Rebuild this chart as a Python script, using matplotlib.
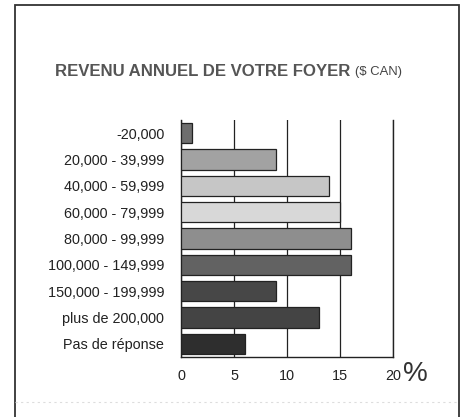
import matplotlib
matplotlib.use("Agg")
import matplotlib.pyplot as plt
from matplotlib.patches import Rectangle
from matplotlib.lines import Line2D

plt.rcParams["font.family"] = ["Liberation Sans Narrow", "Liberation Sans", "DejaVu Sans"]

# données (pourcentage des foyers)
categories = [
    "-20,000",
    "20,000 - 39,999",
    "40,000 - 59,999",
    "60,000 - 79,999",
    "80,000 - 99,999",
    "100,000 - 149,999",
    "150,000 - 199,999",
    "plus de 200,000",
    "Pas de réponse",
]
values = [1, 9, 14, 15, 16, 16, 9, 13, 6]
bar_colors = ["#6e6e6e", "#a2a2a2", "#c6c6c6", "#d8d8d8", "#8e8e8e",
              "#626262", "#474747", "#444444", "#2e2e2e"]
x_ticks = [0, 5, 10, 15, 20]

fig = plt.figure(figsize=(4.63, 4.17), dpi=100)

# cadre extérieur (coupé en bas)
fig.patches.append(Rectangle((15 / 463, -0.05), 444 / 463, 1.05 - 5 / 417,
                             transform=fig.transFigure, fill=False,
                             edgecolor="#333333", linewidth=1.3))
fig.lines.append(Line2D([15 / 463, 459 / 463], [1 - 402 / 417] * 2,
                        transform=fig.transFigure, color="#dddddd",
                        linestyle=(0, (2, 3)), linewidth=0.8))

ax = fig.add_axes([181 / 463, 1 - 357 / 417, 212 / 463, 237 / 417])
y = list(range(len(categories)))
ax.barh(y, values, height=0.76, color=bar_colors, edgecolor="#222222",
        linewidth=0.9, zorder=3)
ax.set_ylim(len(categories) - 0.5, -0.5)
ax.set_xlim(0, 20)
ax.set_yticks(y)
ax.set_yticklabels(categories, fontsize=10.4, color="#222222")
ax.set_xticks(x_ticks)
ax.set_xticklabels([str(t) for t in x_ticks], fontsize=10.4, color="#222222")
ax.tick_params(length=0, pad=9)
ax.tick_params(axis="y", pad=12)
ax.grid(axis="x", color="#222222", linewidth=0.9, zorder=0)
ax.spines["top"].set_visible(False)
for side in ["left", "bottom", "right"]:
    ax.spines[side].set_color("#222222")
    ax.spines[side].set_linewidth(1.0)

fig.text(415 / 463, 1 - 374 / 417, "%", fontsize=20, color="#333333",
         ha="center", va="center")

title = fig.text(55 / 463, 1 - 72 / 417, "REVENU ANNUEL DE VOTRE FOYER",
                 fontsize=12.1, fontweight="bold", color="#555555",
                 family=["Liberation Sans", "DejaVu Sans"], va="center")
renderer = fig.canvas.get_renderer()
title_end = title.get_window_extent(renderer).x1
fig.text((title_end + 5) / 463, 1 - 72 / 417, "($ CAN)", fontsize=9.4,
         color="#444444", family=["Liberation Sans", "DejaVu Sans"], va="center")

fig.savefig("out.png", dpi=100)
